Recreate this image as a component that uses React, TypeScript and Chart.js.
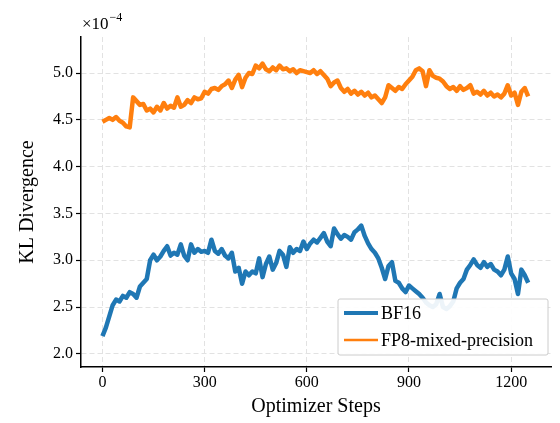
import React, { useEffect, useRef } from "react";
import { Chart, registerables } from "chart.js";

Chart.register(...registerables);

// x positions (optimizer steps), sampled every 10 steps
const steps: number[] = Array.from({ length: 126 }, (_, i) => i * 10);

// KL divergence values, in units of 1e-4
const bf16: number[] = [
  2.19, 2.28, 2.40, 2.52, 2.58, 2.56, 2.62, 2.60, 2.66, 2.64,
  2.60, 2.72, 2.76, 2.80, 3.00, 3.06, 3.00, 3.04, 3.10, 3.15,
  3.05, 3.08, 3.06, 3.17, 3.05, 3.00, 3.17, 3.08, 3.12, 3.09,
  3.10, 3.08, 3.22, 3.10, 3.07, 3.12, 3.05, 3.02, 3.08, 2.88,
  2.92, 2.75, 2.88, 2.84, 2.88, 2.86, 3.02, 2.82, 2.96, 3.04,
  2.90, 2.97, 3.10, 3.06, 2.93, 3.14, 3.08, 3.12, 3.10, 3.20,
  3.12, 3.18, 3.22, 3.19, 3.24, 3.29, 3.20, 3.15, 3.34, 3.28,
  3.23, 3.27, 3.25, 3.22, 3.30, 3.33, 3.37, 3.26, 3.18, 3.12,
  3.08, 3.02, 2.92, 2.80, 2.94, 2.98, 2.78, 2.76, 2.70, 2.66,
  2.73, 2.70, 2.67, 2.64, 2.60, 2.55, 2.52, 2.50, 2.53, 2.64,
  2.50, 2.48, 2.51, 2.56, 2.70, 2.76, 2.80, 2.90, 2.95, 3.01,
  2.95, 2.92, 2.98, 2.93, 2.96, 2.90, 2.88, 2.84, 2.90, 3.04,
  2.86, 2.80, 2.64, 2.90, 2.84, 2.76,
];

const fp8: number[] = [
  4.48, 4.50, 4.52, 4.50, 4.53, 4.49, 4.47, 4.43, 4.42, 4.74,
  4.70, 4.66, 4.67, 4.60, 4.62, 4.58, 4.64, 4.60, 4.68, 4.62,
  4.65, 4.63, 4.74, 4.64, 4.66, 4.71, 4.68, 4.74, 4.72, 4.73,
  4.80, 4.78, 4.83, 4.84, 4.82, 4.86, 4.88, 4.92, 4.84, 4.93,
  4.98, 4.85, 4.95, 5.00, 4.99, 5.08, 5.05, 5.10, 5.04, 5.02,
  5.06, 5.03, 5.08, 5.04, 5.05, 5.02, 5.04, 5.00, 5.03, 5.02,
  5.01, 5.00, 5.03, 4.99, 5.02, 4.98, 4.94, 4.86, 4.90, 4.92,
  4.84, 4.80, 4.83, 4.78, 4.81, 4.77, 4.80, 4.76, 4.79, 4.74,
  4.76, 4.72, 4.68, 4.74, 4.87, 4.84, 4.81, 4.85, 4.83, 4.88,
  4.92, 4.96, 5.03, 5.05, 5.02, 4.86, 5.03, 4.97, 4.95, 4.94,
  4.91, 4.86, 4.83, 4.85, 4.81, 4.86, 4.82, 4.84, 4.87, 4.78,
  4.80, 4.77, 4.81, 4.76, 4.79, 4.75, 4.77, 4.74, 4.78, 4.87,
  4.76, 4.79, 4.66, 4.80, 4.84, 4.75,
];

const xTicks: number[] = [0, 300, 600, 900, 1200];
const yTicks: number[] = [2.0, 2.5, 3.0, 3.5, 4.0, 4.5, 5.0];
const seriesNames: string[] = ["BF16", "FP8-mixed-precision"];
const seriesColors: string[] = ["#1f77b4", "#ff7f0e"];

const FONT = "'Liberation Serif', 'DejaVu Serif', serif";

const overlayPlugin = {
  id: "overlay",
  afterDraw(chart: any) {
    const ctx = chart.ctx;
    const ca = chart.chartArea;
    ctx.save();
    // multiplier text
    ctx.fillStyle = "#000";
    ctx.textBaseline = "alphabetic";
    ctx.font = `17px ${FONT}`;
    ctx.fillText("\u00d710", ca.left + 1, 29);
    const w = ctx.measureText("\u00d710").width;
    ctx.font = `12px ${FONT}`;
    ctx.fillText("\u22124", ca.left + 1 + w + 1, 21);

    // legend
    const lx = 338, ly = 299, lw = 210, lh = 56;
    ctx.beginPath();
    const r = 2;
    ctx.moveTo(lx + r, ly);
    ctx.lineTo(lx + lw - r, ly);
    ctx.quadraticCurveTo(lx + lw, ly, lx + lw, ly + r);
    ctx.lineTo(lx + lw, ly + lh - r);
    ctx.quadraticCurveTo(lx + lw, ly + lh, lx + lw - r, ly + lh);
    ctx.lineTo(lx + r, ly + lh);
    ctx.quadraticCurveTo(lx, ly + lh, lx, ly + lh - r);
    ctx.lineTo(lx, ly + r);
    ctx.quadraticCurveTo(lx, ly, lx + r, ly);
    ctx.closePath();
    ctx.fillStyle = "rgba(255,255,255,0.92)";
    ctx.fill();
    ctx.strokeStyle = "#cccccc";
    ctx.lineWidth = 1;
    ctx.stroke();

    const rows = [
      { y: 313, width: 4 },
      { y: 340, width: 2.5 },
    ];
    rows.forEach((row, i) => {
      ctx.beginPath();
      ctx.strokeStyle = seriesColors[i];
      ctx.lineWidth = row.width;
      ctx.moveTo(344, row.y);
      ctx.lineTo(378, row.y);
      ctx.stroke();
      ctx.fillStyle = "#000";
      ctx.font = `18px ${FONT}`;
      ctx.textBaseline = "middle";
      ctx.fillText(seriesNames[i], 381, row.y + 1);
    });
    ctx.restore();
  },
};

export default function App() {
  const ref = useRef<HTMLCanvasElement | null>(null);

  useEffect(() => {
    document.body.style.margin = "0";
    if (!ref.current) return;
    const gridOpts: any = {
      color: "#e2e2e2",
      tickColor: "#000",
      tickLength: 5,
      tickBorderDash: [],
      tickWidth: 1.2,
      lineWidth: 1,
    };
    const chart = new Chart(ref.current, {
      type: "line",
      data: {
        datasets: [
          {
            label: seriesNames[0],
            data: steps.map((s, i) => ({ x: s, y: bf16[i] })),
            borderColor: seriesColors[0],
            borderWidth: 4.5,
            pointRadius: 0,
            tension: 0,
            borderJoinStyle: "round",
          },
          {
            label: seriesNames[1],
            data: steps.map((s, i) => ({ x: s, y: fp8[i] })),
            borderColor: seriesColors[1],
            borderWidth: 4.5,
            pointRadius: 0,
            tension: 0,
            borderJoinStyle: "round",
          },
        ],
      },
      options: {
        animation: false,
        responsive: false,
        maintainAspectRatio: false,
        layout: { padding: { left: 0, top: 37, right: 9, bottom: 0 } },
        plugins: { legend: { display: false }, tooltip: { enabled: false } },
        scales: {
          x: {
            type: "linear",
            min: -63,
            max: 1317,
            afterFit: (s: any) => {
              s.height = 56;
            },
            afterBuildTicks: (s: any) => {
              s.ticks = xTicks.map((v) => ({ value: v }));
            },
            ticks: {
              color: "#000",
              font: { family: FONT, size: 16 },
              padding: 1,
              maxRotation: 0,
              callback: (v: any) => String(v),
            },
            grid: gridOpts,
            border: { display: true, color: "#000", width: 1.5, dash: [5, 3] },
            title: {
              display: true,
              text: "Optimizer Steps",
              color: "#000",
              font: { family: FONT, size: 20 },
              padding: { top: 2, bottom: 4 },
            },
          },
          y: {
            type: "linear",
            min: 1.86,
            max: 5.385,
            afterFit: (s: any) => {
              s.width = 81;
            },
            afterBuildTicks: (s: any) => {
              s.ticks = yTicks.map((v) => ({ value: v }));
            },
            ticks: {
              color: "#000",
              font: { family: FONT, size: 16 },
              padding: 3,
              callback: (v: any) => Number(v).toFixed(1),
            },
            grid: gridOpts,
            border: { display: true, color: "#000", width: 1.5, dash: [5, 3] },
            title: {
              display: true,
              text: "KL Divergence",
              color: "#000",
              font: { family: FONT, size: 20 },
              padding: { top: 16, bottom: 2 },
            },
          },
        },
      } as any,
      plugins: [overlayPlugin],
    });
    return () => chart.destroy();
  }, []);

  return (
    <div style={{ position: "absolute", left: 0, top: 0, width: 560, height: 423, background: "#fff" }}>
      <canvas ref={ref} width={560} height={423} style={{ width: 560, height: 423 }} />
    </div>
  );
}
